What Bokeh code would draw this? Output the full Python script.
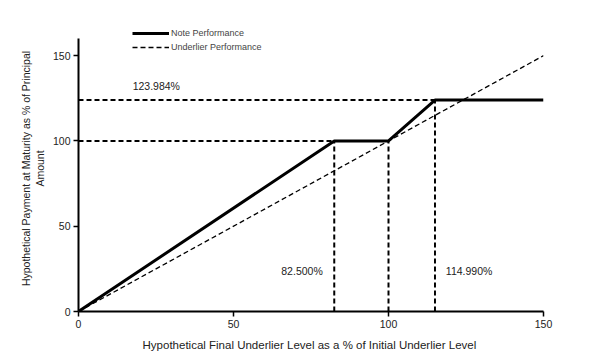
from bokeh.plotting import figure
from bokeh.models import Range1d, FixedTicker, Label, Legend, LegendItem
from bokeh.embed import file_html
from bokeh.resources import INLINE

# ---- data ----
underlier_x = [0, 150]
underlier_y = [0, 150]
note_x = [0, 82.5, 100, 114.99, 150]
note_y = [0, 100, 100, 123.984, 123.984]

# reference (guide) lines
h_levels = [100, 123.984]
h_ends = [82.5, 114.99]
v_levels = [82.5, 100, 114.99]
v_tops = [100, 100, 123.984]

ticks = [0, 50, 100, 150]
ann_text = ["123.984%", "82.500%", "114.990%"]
ann_x = [25.1, 72.1, 126.0]
ann_y = [132.4, 23.9, 23.9]

FONT = "Liberation Sans, Arial, sans-serif"

p = figure(width=614, height=357, output_backend="svg", toolbar_location=None,
           x_range=Range1d(0, 150), y_range=Range1d(0, 167.7),
           min_border_left=78, min_border_right=71, min_border_top=25, min_border_bottom=46)
p.outline_line_color = None
p.grid.visible = False
p.background_fill_color = "white"

# guide dashed lines
p.segment(x0=[0] * len(h_levels), y0=h_levels, x1=h_ends, y1=h_levels,
          line_color="black", line_width=2, line_dash="5 3")
p.segment(x0=v_levels, y0=[0] * len(v_levels), x1=v_levels, y1=v_tops,
          line_color="black", line_width=2, line_dash="5 3")

r_under = p.line(underlier_x, underlier_y, line_color="black", line_width=1.3, line_dash="5 3")
r_note = p.line(note_x, note_y, line_color="black", line_width=3)

for t, x, y in zip(ann_text, ann_x, ann_y):
    p.add_layout(Label(x=x, y=y, text=t, text_align="center", text_baseline="middle",
                       text_font=FONT, text_font_size="10.5px", text_color="#222222"))

legend = Legend(items=[LegendItem(label="Note Performance", renderers=[r_note]),
                       LegendItem(label="Underlier Performance", renderers=[r_under])],
                location=(54, 259), padding=0, margin=0, spacing=4,
                glyph_width=37, glyph_height=10, label_height=10, label_standoff=2,
                label_text_font=FONT, label_text_font_size="9px",
                border_line_alpha=0, background_fill_alpha=0)
p.add_layout(legend, "center")

for ax in (p.xaxis[0], p.yaxis[0]):
    ax.ticker = FixedTicker(ticks=ticks)
    ax.minor_tick_line_color = None
    ax.axis_line_width = 2
    ax.axis_line_color = "black"
    ax.major_tick_line_color = "black"
    ax.major_tick_line_width = 1.5
    ax.major_tick_out = 5
    ax.major_tick_in = 0
    ax.major_label_text_font = FONT
    ax.major_label_text_font_size = "10.5px"
    ax.major_label_text_color = "#222222"
    ax.major_label_standoff = 3
    ax.axis_label_text_font = FONT
    ax.axis_label_text_font_style = "normal"
    ax.axis_label_text_color = "#222222"

p.yaxis.bounds = (0, 160)
p.xaxis.axis_label = "Hypothetical Final Underlier Level  as a % of Initial Underlier Level"
p.xaxis.axis_label_text_font_size = "11.5px"
p.xaxis.axis_label_standoff = 8
p.yaxis.axis_label = "Hypothetical Payment at Maturity as % of Principal\nAmount"
p.yaxis.axis_label_text_font_size = "10.5px"
p.yaxis.axis_label_standoff = 4

open("out.html", "w").write(file_html(p, INLINE))
